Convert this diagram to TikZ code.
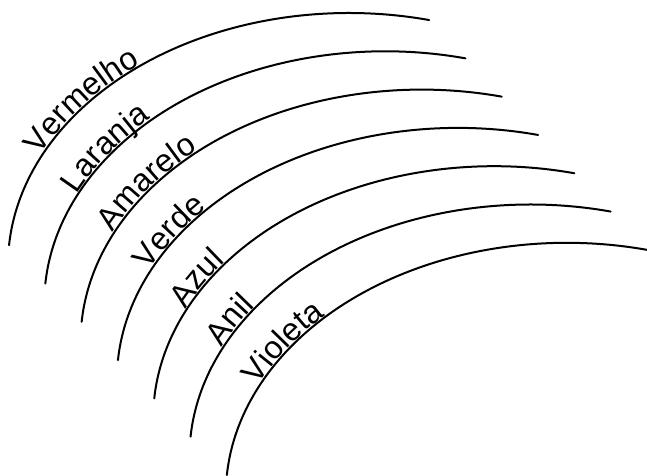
\documentclass[tikz,border=0pt]{standalone}
\usepackage{fontspec}
\setmainfont{Liberation Sans}
\usetikzlibrary{decorations.text}
\newcommand\lblfont{\fontsize{32}{38}\selectfont}
\begin{document}
\begin{tikzpicture}[x=1pt,y=-1pt,
  arcline/.style={line width=2pt, line cap=round},
  lbl/.style={decorate, decoration={text along path, text={|\lblfont|#1}, text align={left indent=95pt}, raise=1.2pt}}]
\useasboundingbox (0,0) rectangle (647,475);
\foreach \i in {0,...,6} {
  \begin{scope}[shift={(\i*36.3,\i*38.3)}]
    \coordinate (s\i) at (9.05,245.2);
    \draw[arcline] (s\i) arc[start angle=175.5, end angle=76.4, x radius=341pt, y radius=252pt] coordinate (e\i);
  \end{scope}
}
\path[lbl=Vermelho] (s0) arc[start angle=175.5, end angle=76.4, x radius=341pt, y radius=252pt];
\path[lbl=Laranja] (s1) arc[start angle=175.5, end angle=76.4, x radius=341pt, y radius=252pt];
\path[lbl=Amarelo] (s2) arc[start angle=175.5, end angle=76.4, x radius=341pt, y radius=252pt];
\path[lbl=Verde] (s3) arc[start angle=175.5, end angle=76.4, x radius=341pt, y radius=252pt];
\path[lbl=Azul] (s4) arc[start angle=175.5, end angle=76.4, x radius=341pt, y radius=252pt];
\path[lbl=Anil] (s5) arc[start angle=175.5, end angle=76.4, x radius=341pt, y radius=252pt];
\path[lbl=Violeta] (s6) arc[start angle=175.5, end angle=76.4, x radius=341pt, y radius=252pt];
\end{tikzpicture}
\end{document}
